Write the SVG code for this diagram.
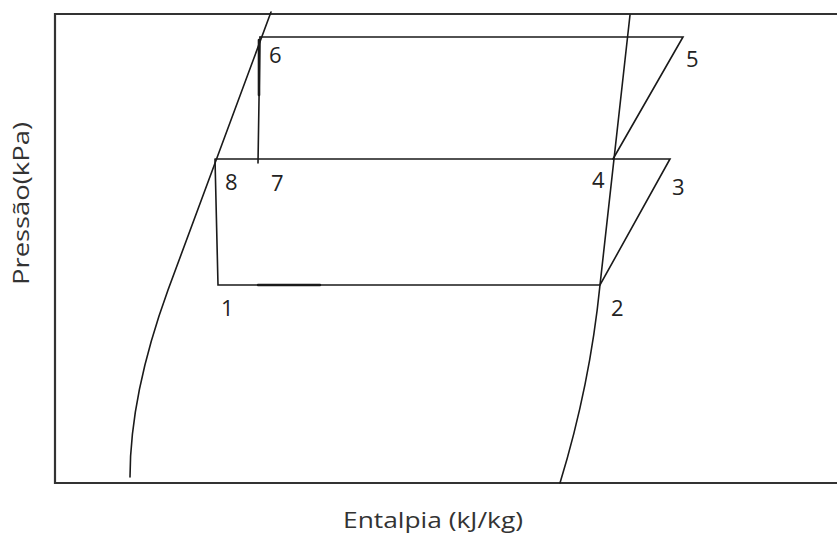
<svg xmlns="http://www.w3.org/2000/svg" width="837" height="533" viewBox="0 0 837 533">
<style>
.ln{fill:none;stroke:#1a1a1a;stroke-width:1.6;stroke-linecap:round}
.fr{fill:none;stroke:#333;stroke-width:2.2}
.lb{font-family:"Open Sans","Liberation Sans",sans-serif;font-size:22px;fill:#222}
.ax{font-family:"Open Sans","Liberation Sans",sans-serif;font-size:22px;fill:#333}
</style>
<rect width="837" height="533" fill="#fff"/>
<g id="frame">
<path class="fr" d="M837,14 H55 V483 H837"/>
</g>
<g id="saturation-curves">
<path class="ln" d="M271,12 L168,290 C148,345 130,410 130,477"/>
<path class="ln" d="M630,15 L600,285 Q590,385 560,483"/>
</g>
<g id="connectors">
<path class="ln" d="M260,37 H683 L613,159"/>
<path class="ln" d="M260,37 L258,163"/>
<path class="ln" d="M259,40 V95" style="stroke-width:2.6"/>
<path class="ln" d="M215,159 H670 L600,285 H218 L215,159"/>
<path class="ln" d="M258,285 H320" style="stroke-width:2.4"/>
</g>
<g id="labels">
<text class="lb" x="269" y="63">6</text>
<text class="lb" x="686" y="67">5</text>
<text class="lb" x="225" y="190">8</text>
<text class="lb" x="271" y="191">7</text>
<text class="lb" x="592" y="188">4</text>
<text class="lb" x="672" y="195">3</text>
<text class="lb" x="221" y="316">1</text>
<text class="lb" x="611" y="316">2</text>
</g>
<g id="axes">
<text class="ax" x="343" y="528" textLength="180" lengthAdjust="spacingAndGlyphs">Entalpia (kJ/kg)</text>
<text class="ax" transform="translate(29,285) rotate(-90)" textLength="163" lengthAdjust="spacingAndGlyphs">Pressão(kPa)</text>
</g>
</svg>
